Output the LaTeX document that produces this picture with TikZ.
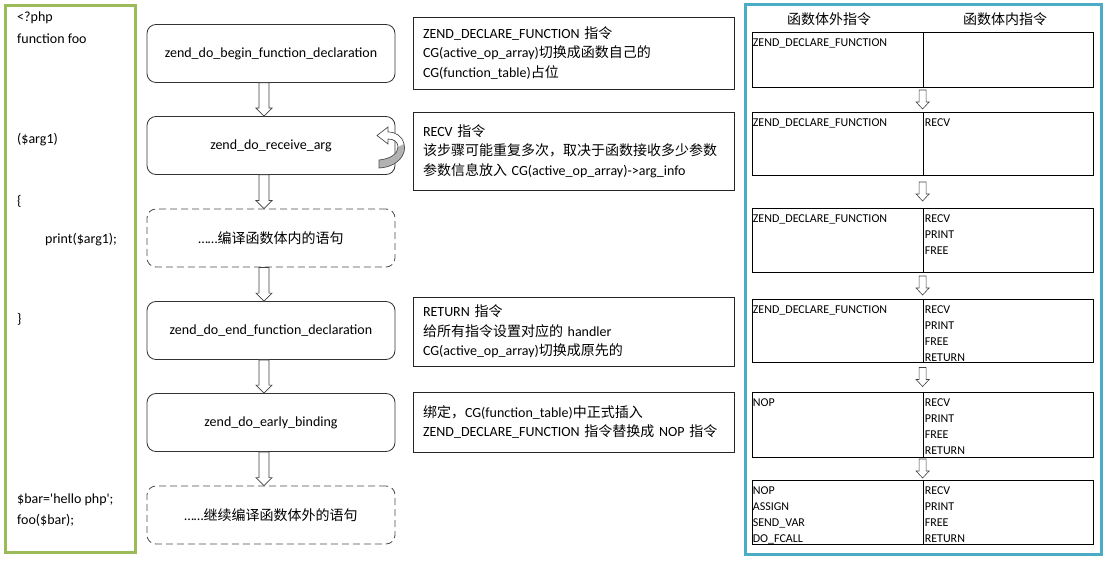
\documentclass[tikz,border=0pt]{standalone}
\usepackage{fontspec}
\setmainfont{Carlito}[Ligatures=TeXOff]
\newfontfamily\cjk{Noto Sans CJK SC}
\newcommand{\zh}[1]{{\cjk #1}}
\usepackage{xcolor}
\usepackage{tikz}
\usetikzlibrary{calc}

\definecolor{codegreen}{HTML}{9BBB59}
\definecolor{opblue}{HTML}{4BACC6}

\begin{document}
\begin{tikzpicture}[x=1pt, y=-1pt,
  stepbox/.style={draw=black!80, line width=0.8pt, rounded corners=9pt, minimum width=248pt, minimum height=58pt, font=\fontsize{14pt}{17pt}\selectfont},
  laterbox/.style={stepbox, draw=black!70, dash pattern=on 7pt off 4pt},
  notebox/.style={draw=black!85, line width=0.8pt, minimum width=321pt, text width=301pt, inner xsep=10pt, align=left, font=\fontsize{14pt}{19.5pt}\selectfont},
  code/.style={anchor=west, inner sep=0pt, font=\fontsize{14pt}{17pt}\selectfont},
  head/.style={inner sep=0pt, font=\fontsize{14pt}{17pt}\selectfont},
  cell/.style={draw=black, line width=0.8pt, inner sep=0pt},
  optext/.style={anchor=north west, inner sep=0pt, align=left, font=\fontsize{12pt}{16pt}\selectfont},
  flowarrow/.style={draw=black!75, fill=white, line width=0.7pt, to path={
    let \p1=(\tikztostart), \p2=(\tikztotarget) in
    (\x1-5pt,\y1) -- (\x1-5pt,\y2+8pt) -- (\x1-8pt,\y2+8pt) -- (\x1,\y2)
    -- (\x1+8pt,\y2+8pt) -- (\x1+5pt,\y2+8pt) -- (\x1+5pt,\y1) -- cycle}},
  oparrow/.style={draw=black!75, fill=white, line width=0.6pt, to path={
    let \p1=(\tikztostart), \p3=($(\tikztostart)!0.5!(\tikztotarget)$) in
    (\x1-3.5pt,\y3+9.5pt) -- (\x1-3.5pt,\y3-2.5pt) -- (\x1-6.5pt,\y3-2.5pt) -- (\x1,\y3-9.5pt)
    -- (\x1+6.5pt,\y3-2.5pt) -- (\x1+3.5pt,\y3-2.5pt) -- (\x1+3.5pt,\y3+9.5pt) -- cycle}}]

\useasboundingbox (0,0) rectangle (1107,561);

% php source
\draw [codegreen, line width=3pt] (5.5,5.5) rectangle (135.5,552.5);

\node[code] (php) at (17,18) {<?php};
\node[code] (fnfoo) at (17,39) {function foo};
\node[code] (argone) at (17,140) {(\$arg1)};
\node[code] (lbrace) at (17,201) {\{};
\node[code] (printarg) at (45,240) {print(\$arg1);};
\node[code] (rbrace) at (17,319) {\}};
\node[code] (barset) at (17,500) {\$bar='hello php';};
\node[code] (foocall) at (17,520) {foo(\$bar);};

% compile steps
\node[stepbox] (begindecl) at (271,53.5) {zend\_do\_begin\_function\_declaration};
\node[stepbox] (recvarg) at (271,145.5) {zend\_do\_receive\_arg};
\node[laterbox] (body) at (271,238) {……\zh{编译函数体内的语句}};
\node[stepbox] (enddecl) at (271,330.5) {zend\_do\_end\_function\_declaration};
\node[stepbox] (binding) at (271,422.5) {zend\_do\_early\_binding};
\node[laterbox] (rest) at (271,515) {……\zh{继续编译函数体外的语句}};

\draw[flowarrow] ([xshift=-7pt]begindecl.south) to ([xshift=-7pt]recvarg.north);
\draw[flowarrow] ([xshift=-7pt]recvarg.south) to ([xshift=-7pt]body.north);
\draw[flowarrow] ([xshift=-7pt]body.south) to ([xshift=-7pt]enddecl.north);
\draw[flowarrow] ([xshift=-7pt]enddecl.south) to ([xshift=-7pt]binding.north);
\draw[flowarrow] ([xshift=-7pt]binding.south) to ([xshift=-7pt]rest.north);

% repeat mark on receive_arg
\fill[white] (379,168) .. controls (398,167) and (407,154) .. (404,144) .. controls (402,136) and (396,132) .. (388,132) -- (388,127) -- (377,135.5) -- (388,144) -- (388,139) .. controls (394,139) and (398,142) .. (398,147) .. controls (398,154) and (390,159) .. (379,160) -- cycle;
\fill[black!30] (379,168) .. controls (398,167) and (407,154) .. (404,144) -- (398,147) .. controls (398,154) and (390,159) .. (379,160) -- cycle;
\draw[black!70, line width=0.7pt] (379,168) .. controls (398,167) and (407,154) .. (404,144) .. controls (402,136) and (396,132) .. (388,132) -- (388,127) -- (377,135.5) -- (388,144) -- (388,139) .. controls (394,139) and (398,142) .. (398,147) .. controls (398,154) and (390,159) .. (379,160) -- cycle;

% notes
\node[notebox, minimum height=72pt] (declnote) at (573.5,53) {ZEND\_DECLARE\_FUNCTION \zh{指令}\\CG(active\_op\_array)\zh{切换成函数自己的}\\CG(function\_table)\zh{占位}};
\node[notebox, minimum height=78pt] (recvnote) at (573.5,151) {RECV \zh{指令}\\\zh{该步骤可能重复多次，取决于函数接收多少参数}\\\zh{参数信息放入} CG(active\_op\_array)->arg\_info};
\node[notebox, minimum height=69pt] (retnote) at (573.5,331.5) {RETURN \zh{指令}\\\zh{给所有指令设置对应的} handler\\CG(active\_op\_array)\zh{切换成原先的}};
\node[notebox, minimum height=60pt] (bindnote) at (573.5,422) {\zh{绑定，}CG(function\_table)\zh{中正式插入}\\ZEND\_DECLARE\_FUNCTION \zh{指令替换成} NOP \zh{指令}};

% opcodes
\draw [opblue, line width=3pt] (745.5,4.5) rectangle (1101.5,554.5);

\node[head] (outhead) at (829,19) {\zh{函数体外指令}};
\node[head] (inhead) at (1005,19) {\zh{函数体内指令}};

\node[cell, minimum width=171pt, minimum height=55pt] (o1l) at (837.5,59.5) {};
\node[cell, minimum width=170pt, minimum height=55pt] (o1r) at (1008,59.5) {};
\node[optext] (t1l) at ([shift={(1,7)}]o1l.north west) {ZEND\_DECLARE\_FUNCTION};

\node[cell, minimum width=171pt, minimum height=63pt] (o2l) at (837.5,143.5) {};
\node[cell, minimum width=170pt, minimum height=63pt] (o2r) at (1008,143.5) {};
\node[optext] (t2l) at ([shift={(1,7)}]o2l.north west) {ZEND\_DECLARE\_FUNCTION};
\node[optext] (t2r) at ([shift={(2,7)}]o2r.north west) {RECV};

\node[cell, minimum width=171pt, minimum height=64pt] (o3l) at (837.5,240) {};
\node[cell, minimum width=170pt, minimum height=64pt] (o3r) at (1008,240) {};
\node[optext] (t3l) at ([shift={(1,7)}]o3l.north west) {ZEND\_DECLARE\_FUNCTION};
\node[optext] (t3r) at ([shift={(2,7)}]o3r.north west) {RECV\\PRINT\\FREE};

\node[cell, minimum width=171pt, minimum height=63pt] (o4l) at (837.5,330.5) {};
\node[cell, minimum width=170pt, minimum height=63pt] (o4r) at (1008,330.5) {};
\node[optext] (t4l) at ([shift={(1,7)}]o4l.north west) {ZEND\_DECLARE\_FUNCTION};
\node[optext] (t4r) at ([shift={(2,7)}]o4r.north west) {RECV\\PRINT\\FREE\\RETURN};

\node[cell, minimum width=171pt, minimum height=65pt] (o5l) at (837.5,424.5) {};
\node[cell, minimum width=170pt, minimum height=65pt] (o5r) at (1008,424.5) {};
\node[optext] (t5l) at ([shift={(1,7)}]o5l.north west) {NOP};
\node[optext] (t5r) at ([shift={(2,7)}]o5r.north west) {RECV\\PRINT\\FREE\\RETURN};

\node[cell, minimum width=171pt, minimum height=64pt] (o6l) at (837.5,512) {};
\node[cell, minimum width=170pt, minimum height=64pt] (o6r) at (1008,512) {};
\node[optext] (t6l) at ([shift={(1,7)}]o6l.north west) {NOP\\ASSIGN\\SEND\_VAR\\DO\_FCALL};
\node[optext] (t6r) at ([shift={(2,7)}]o6r.north west) {RECV\\PRINT\\FREE\\RETURN};

\draw[oparrow] (o1r.south west) to (o2r.north west);
\draw[oparrow] (o2r.south west) to (o3r.north west);
\draw[oparrow] (o3r.south west) to (o4r.north west);
\draw[oparrow] (o4r.south west) to (o5r.north west);
\draw[oparrow] (o5r.south west) to (o6r.north west);

\end{tikzpicture}
\end{document}
